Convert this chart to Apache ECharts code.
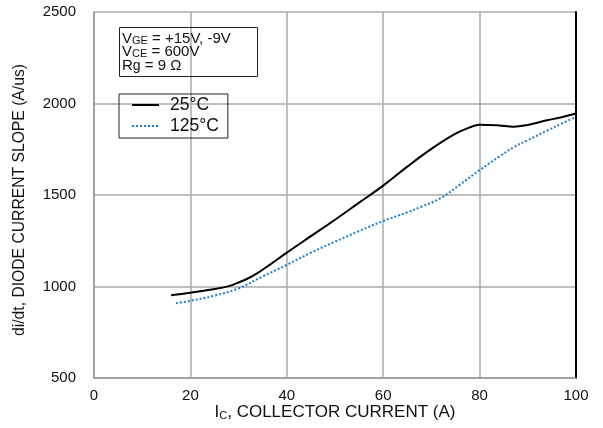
<!DOCTYPE html>
<html>
<head>
<meta charset="utf-8">
<script src="https://cdn.jsdelivr.net/npm/echarts@6/dist/echarts.min.js"></script>
<style>
    html, body { margin: 0; padding: 0; background: #fff; }
    #chart { width: 603px; height: 428px; }
</style>
</head>
<body>
<div id="chart"></div>
<script>
    // 25°C curve
    var ic25 = [16, 20, 24, 28, 30, 32, 34, 36, 40, 45, 50, 55, 60, 65, 70, 75, 78, 80, 84, 87, 90, 94, 97, 100];
    var slope25 = [952, 966, 982, 1002, 1022, 1045, 1075, 1110, 1185, 1275, 1365, 1458, 1551, 1655, 1752, 1835, 1870, 1884, 1880, 1873, 1883, 1908, 1925, 1945];
    // 125°C curve
    var ic125 = [17, 20, 25, 30, 35, 40, 45, 50, 55, 60, 65, 68, 72, 76, 80, 84, 87, 90, 94, 97, 100];
    var slope125 = [908, 922, 950, 990, 1055, 1118, 1185, 1245, 1303, 1358, 1405, 1437, 1484, 1558, 1636, 1708, 1760, 1800, 1852, 1890, 1927];

    var xTicks = [0, 20, 40, 60, 80, 100];
    var yTicks = [500, 1000, 1500, 2000, 2500];

    function pairs(xs, ys) {
        var out = [];
        for (var i = 0; i < xs.length; i++) out.push([xs[i], ys[i]]);
        return out;
    }

    var font = 'Liberation Sans, Arial, sans-serif';
    var chart = echarts.init(document.getElementById('chart'));

    chart.setOption({
        animation: false,
        textStyle: { fontFamily: font },
        title: {
            left: 119,
            top: 29,
            padding: [4, 27, 4, 3],
            borderColor: '#222',
            borderWidth: 1,
            text: '{v|V}{s|GE}{v| = +15V, -9V}\n{v|V}{s|CE}{v| = 600V}\n{v|R}{g|g}{v| = 9 Ω}',
            textStyle: {
                fontWeight: 'normal',
                rich: {
                    v: { fontSize: 15, color: '#111', fontFamily: font, fontWeight: 'normal', lineHeight: 13.3, verticalAlign: 'bottom' },
                    s: { fontSize: 11, color: '#111', fontFamily: font, fontWeight: 'normal', lineHeight: 13.3, verticalAlign: 'bottom' },
                    g: { fontSize: 14, color: '#111', fontFamily: font, fontWeight: 'normal', lineHeight: 13.3, verticalAlign: 'bottom', padding: [3, 0, 0, 0] }
                }
            }
        },
        legend: {
            left: 119,
            top: 94,
            orient: 'vertical',
            padding: [2, 9, 3, 12],
            itemGap: 3,
            itemWidth: 27,
            itemHeight: 16,
            borderColor: '#222',
            borderWidth: 1,
            itemStyle: { opacity: 0 },
            textStyle: { fontSize: 17.5, color: '#111', fontFamily: font, padding: [0, 0, 0, 6] },
            data: ['25°C', '125°C']
        },
        grid: { left: 94, right: 27, top: 12, bottom: 50, outerBoundsMode: 'none' },
        xAxis: {
            type: 'value',
            min: xTicks[0],
            max: xTicks[xTicks.length - 1],
            interval: 20,
            name: '{i|I}{c|C}{t|, COLLECTOR CURRENT (A)}',
            nameLocation: 'middle',
            nameMoveOverlap: false,
            nameGap: 26,
            nameTextStyle: {
                rich: {
                    i: { fontSize: 17, color: '#111', fontFamily: font, verticalAlign: 'bottom' },
                    c: { fontSize: 11, color: '#111', fontFamily: font, verticalAlign: 'bottom', padding: [4, 0, 0, 0] },
                    t: { fontSize: 17, color: '#111', fontFamily: font, verticalAlign: 'bottom' }
                }
            },
            axisLine: { lineStyle: { color: '#999', width: 1.5 } },
            axisTick: { show: false },
            axisLabel: { fontSize: 15, color: '#111', margin: 10 },
            splitLine: { lineStyle: { color: '#aaa', width: 1.5 } }
        },
        yAxis: [{
            type: 'value',
            min: yTicks[0],
            max: yTicks[yTicks.length - 1],
            interval: 500,
            name: 'di/dt, DIODE CURRENT SLOPE (A/us)',
            nameLocation: 'middle',
            nameGap: 66,
            nameTextStyle: { fontSize: 15.7, color: '#111', fontFamily: font, padding: [0, 10, 0, 0] },
            axisLine: { show: true, lineStyle: { color: '#999', width: 1.5 } },
            axisTick: { show: false },
            axisLabel: { fontSize: 15, color: '#111', margin: 18, formatter: function (v) { return String(v); } },
            splitLine: { lineStyle: { color: '#aaa', width: 1.5 } }
        }, {
            type: 'value',
            position: 'right',
            min: yTicks[0],
            max: yTicks[yTicks.length - 1],
            interval: 500,
            axisLine: { show: true, lineStyle: { color: '#000', width: 2 } },
            axisTick: { show: false },
            axisLabel: { show: false },
            splitLine: { show: false }
        }],
        series: [{
            name: '25°C',
            type: 'line',
            smooth: 0.4,
            symbol: 'none',
            data: pairs(ic25, slope25),
            lineStyle: { color: '#000', width: 2 },
            itemStyle: { color: '#000' },
            z: 3
        }, {
            name: '125°C',
            type: 'line',
            smooth: 0.4,
            symbol: 'none',
            data: pairs(ic125, slope125),
            lineStyle: { color: '#1a7fd2', width: 2, type: 'dotted' },
            itemStyle: { color: '#1a7fd2' },
            z: 2
        }]
    });
</script>
</body>
</html>
